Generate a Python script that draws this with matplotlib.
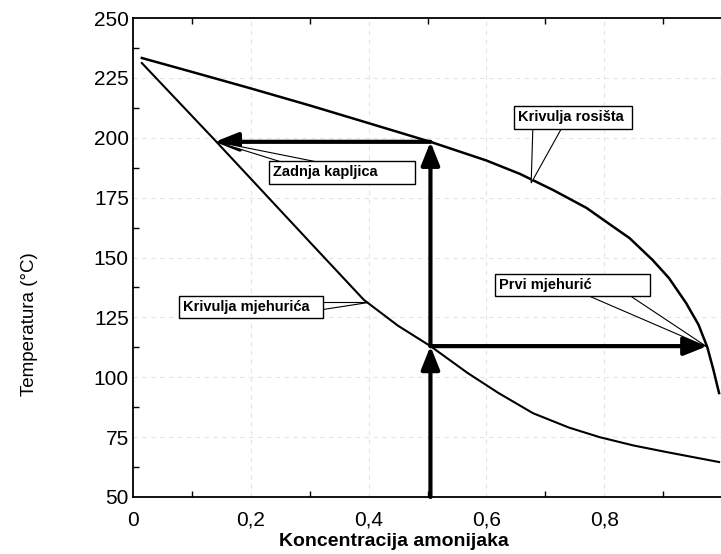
import matplotlib
matplotlib.use("Agg")
import matplotlib.pyplot as plt
from matplotlib.ticker import FixedLocator
from matplotlib.patches import Polygon

plt.rcParams['font.family'] = ['Liberation Sans', 'DejaVu Sans']

# Dew-point curve (Krivulja rosišta)
dew_x = [0.015, 0.10, 0.20, 0.30, 0.40, 0.505, 0.60, 0.657, 0.713, 0.770, 0.804, 0.843, 0.882, 0.910, 0.939, 0.960, 0.975, 0.985, 0.995]
dew_T = [233.3, 227.5, 220.6, 213.5, 206.1, 198.3, 190.5, 184.9, 178.2, 170.7, 164.8, 158.1, 149.0, 141.4, 131.0, 122.0, 112.6, 103.5, 93.4]

# Bubble-point curve (Krivulja mjehurića)
bub_x = [0.015, 0.139, 0.20, 0.30, 0.392, 0.45, 0.505, 0.568, 0.62, 0.679, 0.74, 0.792, 0.85, 0.905, 0.995]
bub_T = [231.2, 199.0, 182.9, 156.5, 132.3, 121.5, 113.0, 101.8, 93.5, 85.0, 79.0, 75.0, 71.5, 68.8, 64.6]

# Process path (arrows)
x_feed = 0.505
T_bubble_feed = 113.0
T_dew_feed = 198.3
x_last_drop = 0.139
x_first_bubble = 0.975
T_min = 50

x_ticks = [0, 0.2, 0.4, 0.6, 0.8]
x_tick_labels = ["0", "0,2", "0,4", "0,6", "0,8"]
y_ticks = [50, 75, 100, 125, 150, 175, 200, 225, 250]

fig = plt.figure(figsize=(7.21, 5.54), dpi=100)
ax = fig.add_axes([133/721, 57/554, 589/721, 479/554])

ax.set_xlim(0, 1.0)
ax.set_ylim(50, 250)

ax.grid(True, color='#e4e4e4', ls=(0, (4, 4)), lw=0.8)
ax.set_axisbelow(True)

ax.plot(dew_x, dew_T, color='black', lw=1.8, zorder=3)
ax.plot(bub_x, bub_T, color='black', lw=1.5, zorder=3)

arrow_kw = dict(arrowstyle='-|>,head_length=1.0,head_width=0.4', lw=3, color='black',
                shrinkA=0, shrinkB=0, mutation_scale=14)
ax.annotate('', xy=(x_feed, T_bubble_feed), xytext=(x_feed, T_min), arrowprops=arrow_kw, zorder=4)
ax.annotate('', xy=(x_feed, T_dew_feed), xytext=(x_feed, T_bubble_feed), arrowprops=arrow_kw, zorder=4)
ax.annotate('', xy=(x_last_drop, T_dew_feed), xytext=(x_feed, T_dew_feed), arrowprops=arrow_kw, zorder=4)
ax.annotate('', xy=(x_first_bubble, T_bubble_feed), xytext=(x_feed, T_bubble_feed), arrowprops=arrow_kw, zorder=4)

box = dict(boxstyle='square,pad=0.3', fc='white', ec='black', lw=1.0)

def callout(text, box_xy, tip, base1, base2):
    ax.add_patch(Polygon([tip, base1, base2], closed=True, fc='white', ec='black',
                         lw=0.8, zorder=4.5))
    ax.text(box_xy[0], box_xy[1], text, ha='center', va='center', fontsize=10.5,
            fontweight='bold', bbox=box, zorder=5)

callout("Zadnja kapljica" + " " * 8, (0.355, 185.5), (0.142, 198.3), (0.2635, 189.0), (0.331, 189.0))
callout("Krivulja rosišta ", (0.747, 208.5), (0.676, 181.1), (0.679, 205.0), (0.730, 205.0))
callout("Prvi mjehurić" + " " * 13, (0.746, 138.5), (0.975, 112.6), (0.764, 135.0), (0.838, 135.0))
callout("Krivulja mjehurića  ", (0.200, 129.3), (0.399, 131.4), (0.31, 131.4), (0.31, 128.0))

ax.xaxis.set_major_locator(FixedLocator(x_ticks))
ax.set_xticklabels(x_tick_labels)
ax.yaxis.set_major_locator(FixedLocator(y_ticks))
ax.xaxis.set_minor_locator(FixedLocator([0.1, 0.3, 0.5, 0.7, 0.9]))
ax.yaxis.set_minor_locator(FixedLocator([62.5, 87.5, 112.5, 137.5, 162.5, 187.5, 212.5, 237.5]))

ax.tick_params(axis='both', which='major', length=0, labelsize=15)
ax.tick_params(axis='x', which='major', pad=10)
ax.tick_params(axis='y', which='major', pad=3)
ax.tick_params(axis='both', which='minor', direction='in', length=4, width=1, top=True)

ax.spines['right'].set_visible(False)
for s in ['left', 'bottom', 'top']:
    ax.spines[s].set_linewidth(1.3)

ax.set_xlabel("Koncentracija amonijaka", fontsize=14, fontweight='bold')
ax.xaxis.set_label_coords(0.443, -0.075)
ax.set_ylabel("Temperatura (°C)", fontsize=13.5)
ax.yaxis.set_label_coords(-0.161, 0.361)

fig.savefig("out.png", dpi=100)
